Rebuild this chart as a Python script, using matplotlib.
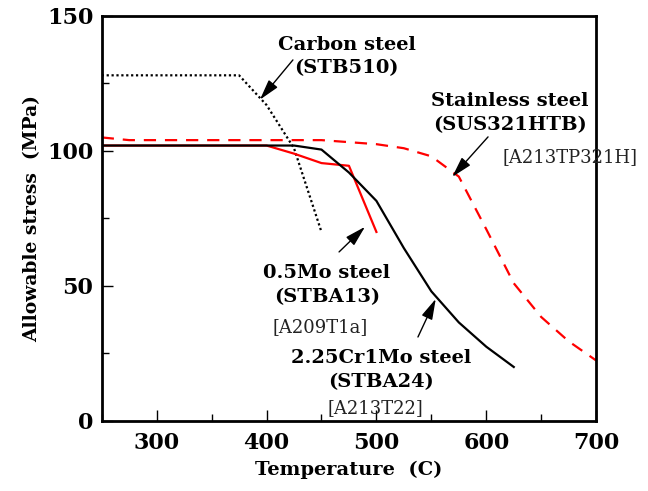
import matplotlib
matplotlib.use("Agg")
import matplotlib.pyplot as plt
from matplotlib.ticker import MultipleLocator

# Data (temperature in C, allowable stress in MPa)
carbon_T = [250, 300, 350, 375, 400, 425, 450]
carbon_S = [128, 128, 128, 128, 117, 101, 70]

stainless_T = [250, 275, 300, 350, 400, 450, 500, 525, 550, 575, 600, 625, 650, 675, 700]
stainless_S = [105, 104, 104, 104, 104, 104, 102.5, 101, 98, 90.5, 71, 51, 38.5, 29.5, 22.4]

mo05_T = [250, 300, 350, 400, 425, 450, 475, 500]
mo05_S = [102, 102, 102, 102, 99, 95.5, 94.5, 70]

crmo_T = [250, 300, 350, 400, 425, 450, 475, 500, 525, 550, 575, 600, 625]
crmo_S = [102, 102, 102, 102, 102, 100.5, 92, 81.5, 64, 48, 36.5, 27.5, 20]

xticks = [300, 400, 500, 600, 700]
yticks = [0, 50, 100, 150]

plt.rcParams['font.family'] = ['DejaVu Serif']

fig = plt.figure(figsize=(6.48, 4.91), dpi=100)
ax = fig.add_axes([0.157, 0.1426, 0.763, 0.825])

ax.plot(carbon_T, carbon_S, color='black', lw=1.6, linestyle=(0, (1, 1.2)))
ax.plot(stainless_T, stainless_S, color='#ff0000', lw=1.6, linestyle=(0, (5.5, 4)))
ax.plot(mo05_T, mo05_S, color='#ff0000', lw=1.6)
ax.plot(crmo_T, crmo_S, color='black', lw=1.6)

ax.set_xlim(250, 700)
ax.set_ylim(0, 150)
ax.set_xticks(xticks)
ax.set_yticks(yticks)
ax.xaxis.set_minor_locator(MultipleLocator(50))
ax.yaxis.set_minor_locator(MultipleLocator(25))
ax.tick_params(axis='both', which='major', direction='in', length=8, width=1,
               labelsize=16, top=False, right=False)
ax.tick_params(axis='both', which='minor', direction='in', length=5, width=1,
               top=False, right=False)
for lab in ax.get_xticklabels() + ax.get_yticklabels():
    lab.set_fontweight('bold')
ax.tick_params(axis='x', pad=8)
ax.tick_params(axis='y', pad=6)
for sp in ax.spines.values():
    sp.set_linewidth(2)

ax.set_xlabel('Temperature  (C)', fontsize=14, fontweight='bold', labelpad=5)
ax.set_ylabel('Allowable stress  (MPa)', fontsize=13.5, fontweight='bold', labelpad=4)

bold = dict(fontsize=14, fontweight='bold', ha='center', va='center', linespacing=1.4)
ref = dict(fontsize=13, color='#222222', ha='center', va='center')
arrow = dict(arrowstyle='-|>,head_length=0.9,head_width=0.25', color='black', lw=1,
             shrinkA=0, shrinkB=0, mutation_scale=14)

ax.text(473, 135, 'Carbon steel\n(STB510)', **bold)
ax.annotate('', xy=(394, 119), xytext=(424, 133.7), arrowprops=arrow)

ax.text(621.7, 114, 'Stainless steel\n(SUS321HTB)', **bold)
ax.text(676, 97.8, '[A213TP321H]', **ref)
ax.annotate('', xy=(569, 90.4), xytext=(601.6, 105.2), arrowprops=arrow)

ax.text(455, 50.4, '0.5Mo steel\n(STBA13)', **bold)
ax.text(448.6, 34.8, '[A209T1a]', **ref)
ax.annotate('', xy=(489.6, 71.9), xytext=(466, 62.6), arrowprops=arrow)

ax.text(504, 18.9, '2.25Cr1Mo steel\n(STBA24)', **bold)
ax.text(498.7, 4.8, '[A213T22]', **ref)
ax.annotate('', xy=(554, 45.2), xytext=(537.8, 31.1), arrowprops=arrow)

fig.savefig('out.png', dpi=100)
